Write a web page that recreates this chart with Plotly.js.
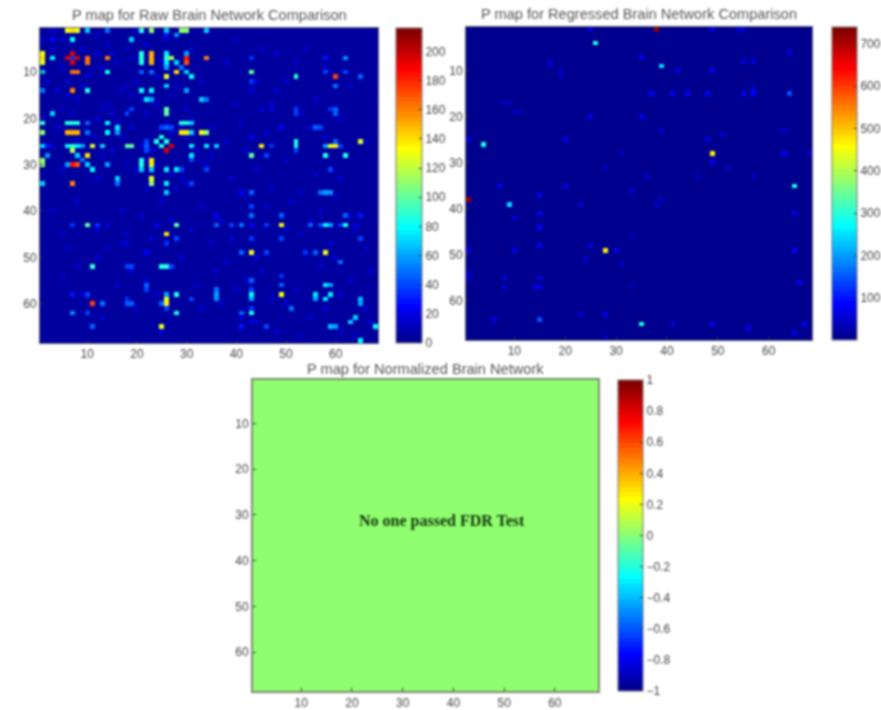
<!DOCTYPE html>
<html>
<head>
<meta charset="utf-8">
<script src="https://cdn.plot.ly/plotly-3.0.1.min.js"></script>
<style>
html,body{margin:0;padding:0;background:#fff;}
#plot{width:881px;height:710px;filter:blur(1px);}
</style>
</head>
<body>
<div id="plot"></div>
<script>
// Every matrix is symmetric, so only the cells with row < col are listed: [row, col, value]
const gridSize = 68;
const rawBase = 4;
const rawCells = [
[1,6,130],[1,7,140],[1,8,125],[1,10,70],[1,14,50],[1,21,90],[1,23,110],[1,26,70],[1,29,110],[1,30,110],[1,34,70],
[3,7,80],[3,19,70],[3,3,25],[2,28,55],
[6,7,195],[7,8,195],[7,7,35],[7,10,165],[8,10,165],[7,14,160],[6,21,85],[7,21,85],[8,21,85],
[6,23,150],[7,23,150],[8,23,150],[6,26,75],[7,26,90],[8,26,75],[9,26,60],[7,27,115],[8,28,70],[6,30,60],[7,30,185],[8,30,170],[7,34,160],
[10,14,85],[10,21,45],[10,23,50],[10,28,140],[10,30,70],[11,26,125],[11,31,80],[9,29,50],
[14,21,80],[14,23,80],[13,26,70],[14,30,60],[16,22,75],[16,23,60],[16,33,70],[18,26,100],[19,26,100],[18,19,40],
[21,29,85],[21,30,85],[22,25,40],[22,26,45],[22,27,40],[23,29,135],[23,30,135],[23,33,130],[23,34,110],
[24,25,85],[25,26,85],[26,27,195],[26,31,75],[26,34,75],[26,36,70],[2,26,30],[28,31,75],
[21,31,70],[23,31,70],[29,31,40],[16,34,50],[31,34,40],
[7,43,35],[7,58,30],[7,62,55],[10,43,100],[10,58,40],[10,62,40],[11,52,90],[11,60,175],[11,65,45],[12,43,35],[13,60,50],
[18,59,35],[18,60,45],[19,60,45],[26,45,135],[26,47,35],[25,52,85],[26,52,85],[27,52,40],[26,58,60],[26,59,130],[26,60,135],[26,61,40],[25,60,45],[25,65,125],
[28,43,100],[28,46,40],[28,58,85],[28,62,85],[31,59,40],[14,43,20],[24,43,25],[36,43,45],[18,45,20],[18,47,20],[22,49,25],[18,52,40],[19,52,40],
[22,56,45],[22,57,40],[36,57,50],[36,58,60],[36,59,55],[39,43,40],[41,43,50],[43,43,25],[43,46,35],[43,49,130],[43,55,45],[43,57,40],[43,58,80],[43,59,60],[43,61,35],[43,62,85],[43,64,20],
[36,41,25],[41,49,45],[41,62,45],[46,49,40],[49,54,35],[49,56,45],[49,58,130],[51,61,50],[56,59,60],[56,58,75],[58,59,75],[59,65,65],[60,65,60],[63,64,70],[41,65,30],[46,65,40],[65,68,80]
];
const rawFaint = [
[1,3],[1,20],[2,12],[3,5],[3,26],[4,14],[4,22],[5,9],[5,18],[5,31],[6,12],[6,15],[7,19],[8,16],[8,25],[9,13],[10,11],[11,24],[12,20],[12,33],[13,18],[13,28],[14,17],[15,19],[15,27],[16,21],[17,24],[18,30],[19,22],[20,31],[21,26],[22,29],[22,35],[23,27],[24,30],[27,32],[28,35],[29,33],[30,34],
[3,40],[5,45],[5,54],[6,48],[8,38],[8,52],[9,58],[12,44],[12,50],[13,63],[14,48],[16,56],[17,40],[17,47],[19,53],[20,61],[21,41],[22,55],[23,46],[24,58],[25,38],[25,66],[27,42],[29,50],[31,44],[32,56],[33,39],[33,61],[35,47],[36,53],[37,42],[37,60],[38,51],[39,46],[40,57],[41,63],[42,55],[44,50],[44,64],[45,53],[47,59],[48,66],[50,60],[52,57],[53,67],[55,63],[58,61],[61,66],[64,67]
];
const rawFaintValue = 14;
const regCells = [
[1,25,60],[1,38,720],[1,49,60],[1,54,50],[1,55,50],[4,26,300],[6,64,60],[7,35,85],[8,55,60],[8,57,60],[9,39,250],[9,17,35],[10,42,60],[10,49,70],[11,19,35],[14,57,60],
[15,37,90],[15,41,70],[15,44,85],[15,48,70],[15,55,70],[15,57,90],[15,64,150],[8,17,35],[10,19,45],[20,25,80],[20,35,80],[23,39,50],[23,63,50],[24,51,55],[25,48,60],
[28,31,45],[28,49,470],[28,63,70],[28,68,45],[30,49,80],[31,52,55],[33,36,50],[33,46,45],[33,57,45],[35,65,300],[38,39,55],[41,65,60],[49,65,90],[56,66,70],[65,67,90]
];
const normCells = [];

const rawRange = [0, 216];
const regRange = [0, 740];
const normRange = [-1, 1];
const rawTicks = [0,20,40,60,80,100,120,140,160,180,200];
const regTicks = [100,200,300,400,500,600,700];
const normTicks = [-1,-0.8,-0.6,-0.4,-0.2,0,0.2,0.4,0.6,0.8,1];
const axisTicks = [10,20,30,40,50,60];
const titles = ['P map for Raw Brain Network Comparison','P map for Regressed Brain Network Comparison','P map for Normalized Brain Network'];
const noteText = 'No one passed FDR Test';

const W = 881, H = 710;
// Panel boxes in pixels: left, right, top, bottom; colour bar left, width; title centre y
const boxes = [
  {l:40, r:378, t:28, b:343, cl:396, cw:26, ty:15},
  {l:466,r:812, t:27, b:340, cl:832, cw:25, ty:14},
  {l:253,r:598, t:380,b:691, cl:618, cw:25, ty:369}
];

function jet64(){
  const cl = v => Math.round(255*Math.min(1,Math.max(0,v)));
  const out = [];
  for(let i=1;i<=64;i++){
    const t=i/64;
    const c=`rgb(${cl(1.5-Math.abs(4*t-3))},${cl(1.5-Math.abs(4*t-2))},${cl(1.5-Math.abs(4*t-1))})`;
    out.push([(i-1)/64,c]); out.push([i/64,c]);
  }
  return out;
}
function buildMatrix(base, cells, faint, faintValue){
  const z=[]; for(let r=0;r<gridSize;r++){z.push(new Array(gridSize).fill(base));}
  (faint||[]).forEach(p=>{z[p[0]-1][p[1]-1]=faintValue;z[p[1]-1][p[0]-1]=faintValue;});
  cells.forEach(p=>{z[p[0]-1][p[1]-1]=p[2];z[p[1]-1][p[0]-1]=p[2];});
  return z;
}
const axisIdx = Array.from({length:gridSize},(_,i)=>i+1);
const scale = jet64();
function trace(i,z,range,ticks){
  const b=boxes[i], s=i?String(i+1):'';
  return {type:'heatmap',x:axisIdx,y:axisIdx,z:z,zmin:range[0],zmax:range[1],colorscale:scale,zsmooth:false,
    xaxis:'x'+s,yaxis:'y'+s,hoverinfo:'skip',
    colorbar:{x:b.cl/W,xanchor:'left',y:1-b.t/H,yanchor:'top',len:(b.b-b.t)/H,lenmode:'fraction',thickness:b.cw,thicknessmode:'pixels',
      xpad:0,ypad:0,outlinecolor:'#777',outlinewidth:1,tickmode:'array',tickvals:ticks,ticks:'inside',ticklen:3,tickcolor:'#333',
      tickfont:{family:'Liberation Sans',size:12,color:'#444'}}};
}
const data=[
  trace(0,buildMatrix(rawBase,rawCells,rawFaint,rawFaintValue),rawRange,rawTicks),
  trace(1,buildMatrix(0,regCells),regRange,regTicks),
  trace(2,buildMatrix(0,normCells),normRange,normTicks)
];
const layout={width:W,height:H,margin:{l:0,r:0,t:0,b:0,autoexpand:false},paper_bgcolor:'#fff',plot_bgcolor:'#fff',showlegend:false,annotations:[]};
boxes.forEach((b,i)=>{
  const s=i?String(i+1):'';
  const common={tickmode:'array',tickvals:axisTicks,ticks:'inside',ticklen:3,tickcolor:'#333',showgrid:false,zeroline:false,showline:true,
    linecolor:i===2?'#7d8a70':'#666',linewidth:i===2?2:1,mirror:true,tickfont:{family:'Liberation Sans',size:12,color:'#444'},automargin:false};
  layout['xaxis'+s]=Object.assign({},common,{domain:[b.l/W,b.r/W],range:[0.5,gridSize+0.5],anchor:'y'+s});
  layout['yaxis'+s]=Object.assign({},common,{domain:[1-b.b/H,1-b.t/H],range:[gridSize+0.5,0.5],anchor:'x'+s});
  layout.annotations.push({xref:'paper',yref:'paper',x:(b.l+b.r)/2/W,y:1-b.ty/H,xanchor:'center',yanchor:'middle',showarrow:false,text:titles[i],
    font:{family:'Liberation Sans',size:14.6,color:'#555'}});
});
layout.annotations.push({xref:'x3',yref:'y3',x:37.7,y:31.3,xanchor:'center',yanchor:'middle',showarrow:false,text:'<b>'+noteText+'</b>',
  font:{family:'Liberation Serif',size:16,color:'#14330c'}});
Plotly.newPlot('plot',data,layout,{displayModeBar:false,responsive:false,staticPlot:true});
</script>
</body>
</html>
